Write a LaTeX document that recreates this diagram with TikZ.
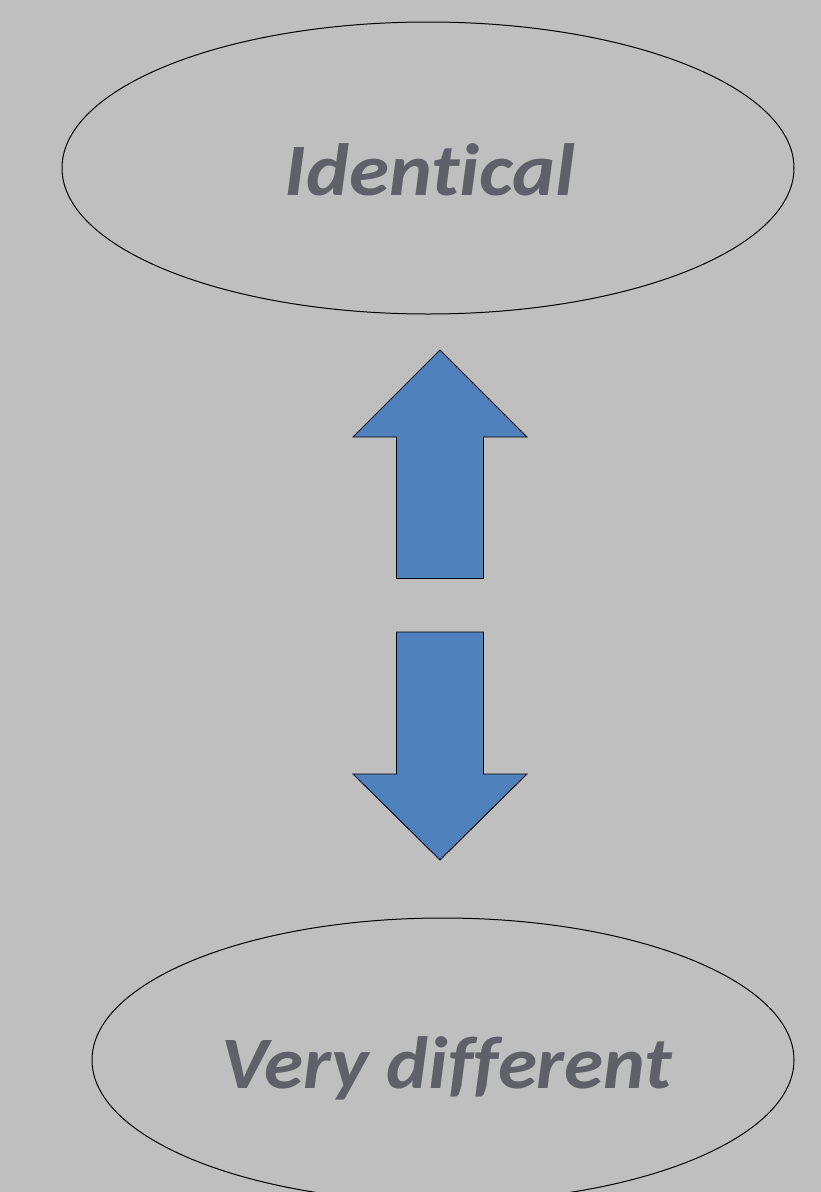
\documentclass[tikz,border=0pt]{standalone}
\usepackage{fontspec}
\newfontfamily\calibrifont[Ligatures=NoCommon]{Carlito}
\usetikzlibrary{shapes.geometric}
\definecolor{bggray}{RGB}{191,191,191}
\definecolor{txtgray}{RGB}{96,96,104}
\definecolor{arrowblue}{RGB}{79,129,189}
\tikzset{
  oval/.style={draw=black, line width=1pt, ellipse, inner sep=0pt, outer sep=0pt},
  ovaltext/.style={text=txtgray, font=\calibrifont\bfseries\itshape\fontsize{74}{80}\selectfont,
    anchor=base, inner sep=0pt, xscale=1.1},
  blockarrow/.style={fill=arrowblue, draw=black, line width=0.9pt, line join=miter}
}
\begin{document}
\begin{tikzpicture}[x=1pt,y=-1pt]
\useasboundingbox (0,0) rectangle (821,1192);
\clip (0,0) rectangle (821,1192);
\fill[bggray] (0,0) rectangle (821,1192);
\node[oval, minimum width=732pt, minimum height=292pt] (same) at (428,168) {};
\node[ovaltext] (sametxt) at (430,195) {Identical};
\node[oval, minimum width=702pt, minimum height=284pt] (diff) at (443,1060) {};
\node[ovaltext, xscale=0.975] (difftxt) at (447,1088) {Very different};
\draw[blockarrow] (440,350) -- (527,437) -- (483.5,437) -- (483.5,578.5) -- (396.5,578.5) -- (396.5,437) -- (353,437) -- cycle;
\draw[blockarrow] (396.5,632) -- (483.5,632) -- (483.5,774) -- (527,774) -- (440,860) -- (353,774) -- (396.5,774) -- cycle;
\end{tikzpicture}
\end{document}
